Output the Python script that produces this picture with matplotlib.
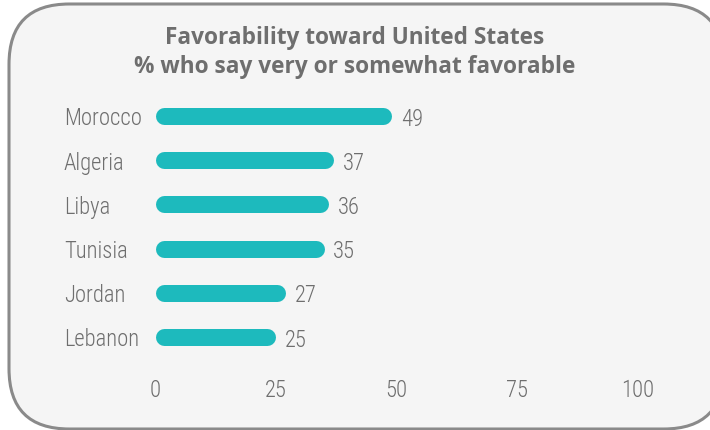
import matplotlib
matplotlib.use("Agg")
import matplotlib.pyplot as plt
from matplotlib import font_manager
from matplotlib.patches import FancyBboxPatch

countries = ["Morocco", "Algeria", "Libya", "Tunisia", "Jordan", "Lebanon"]
favorable = [49, 37, 36, 35, 27, 25]
ticks = [0, 25, 50, 75, 100]

bar_color = "#1dbabd"
text_color = "#6e6e6e"
bg_color = "#f5f5f5"

names = {f.name for f in font_manager.fontManager.ttflist}
cond = "DejaVu Sans"
for cand in ["Roboto Condensed", "Liberation Sans Narrow", "Open Sans Condensed"]:
    if cand in names:
        cond = cand
        break
label_font = dict(family=cond, fontstretch="condensed", fontweight="light",
                  fontsize=16.3, color=text_color)

W, H = 710, 431
fig = plt.figure(figsize=(W / 100, H / 100), dpi=100)
fig.patch.set_facecolor("white")

# rounded card behind the chart
card = FancyBboxPatch((9 / W, 1 / H), 715 / W, 425 / H,
                      boxstyle="round,pad=0,rounding_size=0.085",
                      transform=fig.transFigure, facecolor=bg_color,
                      edgecolor="#8a8a8a", linewidth=2.2, mutation_aspect=W / H,
                      zorder=-5)
fig.patches.append(card)

fig.text(0.5, 1 - 38 / H, "Favorability toward United States", ha="center", va="center",
         fontsize=16.3, fontweight="bold", color=text_color, family="Open Sans")
fig.text(0.5, 1 - 67 / H, "% who say very or somewhat favorable", ha="center", va="center",
         fontsize=16.3, fontweight="bold", color=text_color, family="Open Sans")

# axes: x=0 at 155px, x=100 at 638px
ax_left, ax_width = 155, 483
ax = fig.add_axes([ax_left / W, 1 - 360 / H, ax_width / W, 265 / H])
ax.set_facecolor("none")
ax.set_xlim(0, 100)
ys = list(range(len(countries)))
ax.set_ylim(len(countries) - 0.5, -0.5)

# pill-shaped bars: round caps sit inside 0..value
bar_px = 17
lw = bar_px * 72 / 100
px_per_unit = ax_width / 100
cap = bar_px / 2 / px_per_unit
gap = 9 / px_per_unit
for y, v in zip(ys, favorable):
    ax.plot([cap, v - cap], [y, y], color=bar_color, linewidth=lw,
            solid_capstyle="round", clip_on=False)
    ax.text(v + gap, y + 0.05, str(v), va="center", ha="left", **label_font)
    ax.annotate(countries[y], xy=(64 / W, y + 0.04), xycoords=("figure fraction", "data"),
                va="center", ha="left", annotation_clip=False, **label_font)

ax.set_yticks([])
ax.set_xticks(ticks)
ax.set_xticklabels([str(t) for t in ticks], **label_font)
ax.tick_params(length=0, axis="x", pad=14)
for s in ax.spines.values():
    s.set_visible(False)

fig.savefig("out.png", dpi=100, facecolor="white")
